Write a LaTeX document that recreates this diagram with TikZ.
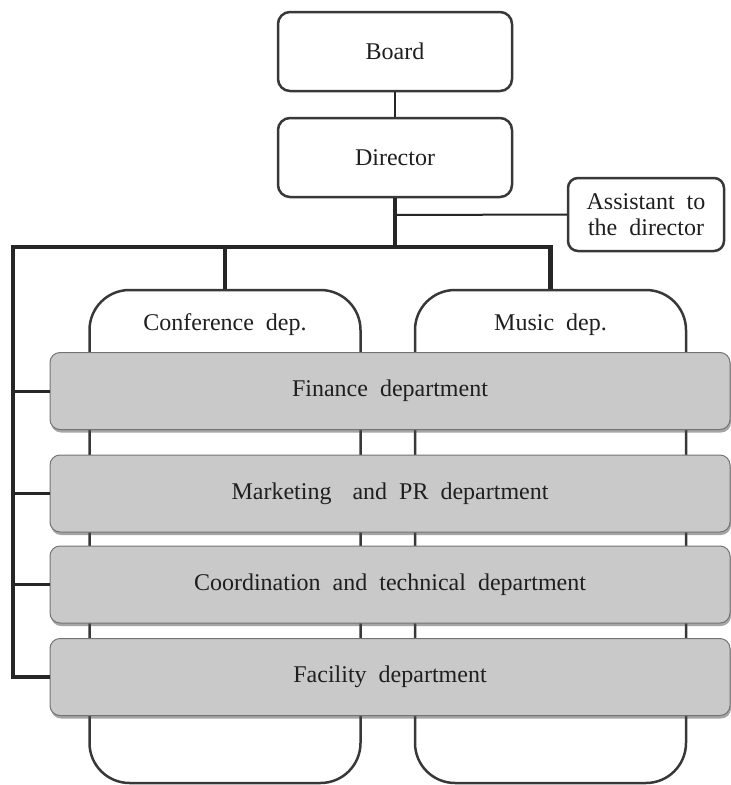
\documentclass[tikz,border=0pt]{standalone}
\usepackage{fontspec}
\setmainfont{Liberation Serif}
\usetikzlibrary{shadows}
\newcommand{\wordgap}{\spaceskip=12pt\relax}

\begin{document}
\begin{tikzpicture}[x=1pt, y=-1pt,
  topbox/.style={draw=black!78, line width=2.5pt, rounded corners=12pt, fill=white,
    minimum width=234pt, minimum height=79pt, inner sep=0pt},
  depbox/.style={draw=black!78, line width=2.5pt, rounded corners=40pt, fill=white,
    minimum width=271pt, minimum height=493pt, inner sep=0pt},
  unitbox/.style={draw=black!55, line width=1pt, rounded corners=10pt, fill=black!21,
    minimum width=680pt, minimum height=77pt, inner sep=0pt,
    drop shadow={shadow xshift=1pt, shadow yshift=-3pt, opacity=.5, fill=black!70}},
  font=\fontsize{24}{26}\selectfont\wordgap, text=black!88]
  \useasboundingbox (0,0) rectangle (731,785);

%top of the chart
  \node[topbox] (board) at (395,51.5) {Board};
  \node[topbox] (director) at (395,157.5) {Director};
  \node[topbox, minimum width=156pt, minimum height=73pt, rounded corners=10pt,
    align=center] (assistant) at (646,214.5) {Assistant to\\the director};

%the two departments
  \node[depbox] (conf) at (225,536.5) {};
  \node[depbox] (music) at (550.5,536.5) {};
  \node[anchor=base] (conftext) at (225,330) {Conference dep.};
  \node[anchor=base] (musictext) at (550.5,330) {Music dep.};

%shared units
  \node[unitbox] (fin) at (390,391) {Finance department};
  \node[unitbox] (mkt) at (390,493.5) {Marketing\hspace{9pt} and PR department};
  \node[unitbox] (coord) at (390,584.5) {Coordination and technical department};
  \node[unitbox] (fac) at (390,677) {Facility department};

%lines
  \coordinate (jn) at (395,247);
  \coordinate (jl) at (13,247);
  \coordinate (ja) at (395,215);
  \draw[black!85, line width=2.5pt] (board) -- (director);
  \draw[black!85, line width=2pt] (ja) -- (assistant.west);
  \draw[black!85, line width=3.5pt] (jn) -| (conf.north);
  \draw[black!85, line width=3.5pt] (conf.north |- jn) -- (jl) -- (jl |- fac.west) -- (fac.west);
  \foreach \u in {fin, mkt, coord}
    \draw[black!85, line width=3pt] (jl |- \u.west) -- (\u.west);
  \draw[black!85, line width=4.5pt] (director.south) -- (jn) -| (music.north);
\end{tikzpicture}
\end{document}
